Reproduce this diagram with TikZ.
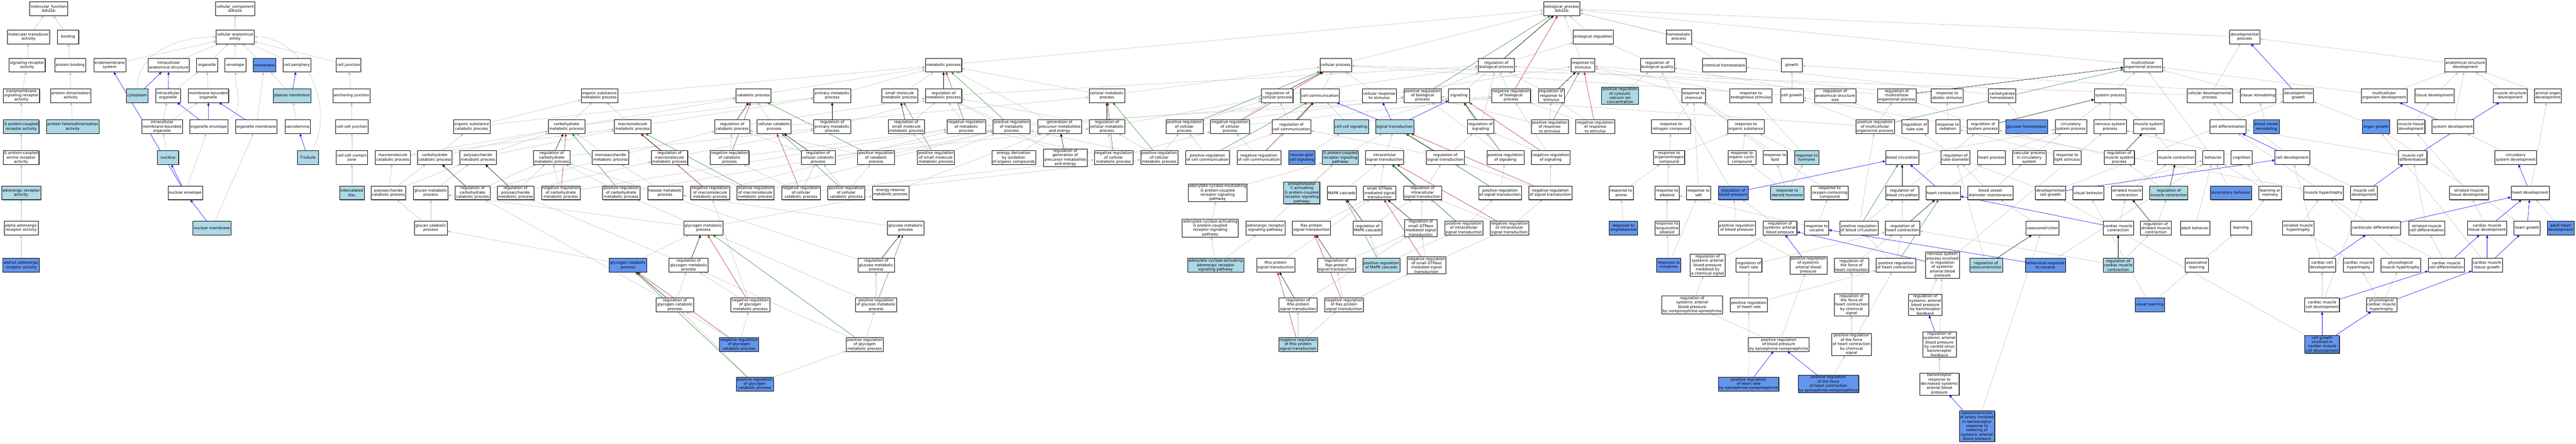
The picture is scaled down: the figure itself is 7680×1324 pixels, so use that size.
\documentclass[tikz,border=0pt]{standalone}
\usepackage{fontspec}
\usepackage{tikz}
\usetikzlibrary{arrows.meta}
\usetikzlibrary{shadows}
\usetikzlibrary{backgrounds}
\newfontfamily\gofont{DejaVu Sans}
\definecolor{lightblue}{HTML}{ADD8E6}
\definecolor{cornflower}{HTML}{6495ED}
\definecolor{edgegray}{HTML}{C0C0C0}
\definecolor{regred}{HTML}{B22222}
\definecolor{reggreen}{HTML}{228B22}
\tikzset{term/.style = {draw=black, fill=white, line width=0.8pt, align=center,
                        font=\gofont\fontsize{11.3}{12.9}\selectfont,
                        inner xsep=2.7pt, inner ysep=1.5pt,
                        minimum width=63pt, minimum height=41pt,
                        drop shadow={shadow xshift=1.3pt, shadow yshift=-1.3pt, fill=black!60, opacity=1}},
         lbterm/.style = {term, fill=lightblue},
         cbterm/.style = {term, fill=cornflower}}
\tikzset{isa/.style = {draw=edgegray, line width=0.9pt, -{Triangle[length=8pt,width=7pt]}},
         partof/.style = {isa, draw=blue},
         regl/.style = {isa, draw=black},
         posreg/.style = {isa, draw=reggreen},
         negreg/.style = {isa, draw=regred}}

\begin{document}
\begin{tikzpicture}[x=1pt, y=-1pt]
			\useasboundingbox (0,0) rectangle (7680,1324);
			% molecular function
			\node [term] (mf) at (145,26) {molecular\_function\\Adra1b};
			\node [term] (mtrans) at (85,110) {molecular transducer\\activity};
			\node [term] (binding) at (203,110) {binding};
			\node [term] (sigrec) at (81,194) {signaling receptor\\activity};
			\node [term] (protbind) at (209,194) {protein binding};
			\node [term] (tmsig) at (64,285) {transmembrane\\signaling receptor\\activity};
			\node [term] (protdim) at (211,285) {protein dimerization\\activity};
			\node [lbterm] (gpcr) at (63,378) {G protein-coupled\\receptor activity};
			\node [lbterm] (hetdim) at (217,378) {protein heterodimerization\\activity};
			\node [term] (gpcramine) at (63,470) {G protein-coupled\\amine receptor\\activity};
			\node [lbterm] (adrrec) at (63,575) {adrenergic receptor\\activity};
			\node [term] (alphaadr) at (63,680) {alpha-adrenergic\\receptor activity};
			\node [cbterm] (alphaone) at (63,791) {alpha1-adrenergic\\receptor activity};
			% cellular component
			\node [term] (cc) at (701,26) {cellular\_component\\Adra1b};
			\node [term] (cae) at (701,110) {cellular anatomical\\entity};
			\node [term] (endomem) at (327,194) {endomembrane\\system};
			\node [term] (ias) at (503,194) {intracellular\\anatomical structure};
			\node [term] (organelle) at (617,194) {organelle};
			\node [term] (envelope) at (702,194) {envelope};
			\node [cbterm] (membrane) at (788,194) {membrane};
			\node [term] (cellper) at (885,194) {cell periphery};
			\node [term] (celljunc) at (1039,194) {cell junction};
			\node [lbterm] (cytoplasm) at (409,285) {cytoplasm};
			\node [term] (intorg) at (501,285) {intracellular\\organelle};
			\node [term] (mborg) at (621,285) {membrane-bounded\\organelle};
			\node [lbterm] (pm) at (870,285) {plasma membrane};
			\node [term] (anchor) at (1048,285) {anchoring junction};
			\node [term] (imbo) at (483,378) {intracellular\\membrane-bounded\\organelle};
			\node [term] (orgenv) at (622,378) {organelle envelope};
			\node [term] (orgmem) at (764,378) {organelle membrane};
			\node [term] (sarco) at (887,378) {sarcolemma};
			\node [term] (ccjunc) at (1049,378) {cell-cell junction};
			\node [lbterm] (nucleus) at (501,470) {nucleus};
			\node [lbterm] (ttub) at (918,470) {T-tubule};
			\node [term] (cczone) at (1049,470) {cell-cell contact\\zone};
			\node [term] (nucenv) at (552,575) {nuclear envelope};
			\node [lbterm] (icd) at (1049,575) {intercalated\\disc};
			\node [lbterm] (nucmem) at (632,680) {nuclear membrane};
			% biological process, top rows
			\node [term] (bp) at (4656,26) {biological\_process\\Adra1b};
			\node [term] (bioreg) at (4750,110) {biological regulation};
			\node [term] (homeo) at (5005,110) {homeostatic\\process};
			\node [term] (devproc) at (6692,110) {developmental\\process};
			\node [term] (metproc) at (2813,194) {metabolic process};
			\node [term] (cellproc) at (3982,194) {cellular process};
			\node [term] (regbp) at (4461,194) {regulation of\\biological process};
			\node [term] (respstim) at (4719,194) {response to\\stimulus};
			\node [term] (regbq) at (4941,194) {regulation of\\biological quality};
			\node [term] (chemhom) at (5140,194) {chemical homeostasis};
			\node [term] (growth) at (5342,194) {growth};
			\node [term] (mcop) at (6389,194) {multicellular\\organismal process};
			\node [term] (asdev) at (7350,194) {anatomical structure\\development};
			% row D
			\node [term] (osmp) at (1787,285) {organic substance\\metabolic process};
			\node [term] (catproc) at (2246,285) {catabolic process};
			\node [term] (primmet) at (2481,285) {primary metabolic\\process};
			\node [term] (smmp) at (2682,285) {small molecule\\metabolic process};
			\node [term] (regmet) at (2813,285) {regulation of\\metabolic process};
			\node [term] (cellmet) at (3300,285) {cellular metabolic\\process};
			\node [term] (regcp) at (3808,285) {regulation of\\cellular process};
			\node [term] (cellcomm) at (3935,285) {cell communication};
			\node [term] (crs) at (4112,285) {cellular response\\to stimulus};
			\node [term] (posbp) at (4241,285) {positive regulation\\of biological\\process};
			\node [term] (signaling) at (4350,285) {signaling};
			\node [term] (negbp) at (4505,285) {negative regulation\\of biological\\process};
			\node [term] (regrs) at (4625,285) {regulation of\\response to\\stimulus};
			\node [lbterm] (poscyt) at (4830,285) {positive regulation\\of cytosolic\\calcium ion\\concentration};
			\node [term] (respchem) at (5049,285) {response to\\chemical};
			\node [term] (respendo) at (5220,285) {response to\\endogenous stimulus};
			\node [term] (cellgrowth) at (5342,285) {cell growth};
			\node [term] (regass) at (5471,285) {regulation of\\anatomical structure\\size};
			\node [term] (regmop) at (5655,285) {regulation of\\multicellular\\organismal process};
			\node [term] (respabio) at (5805,285) {response to\\abiotic stimulus};
			\node [term] (carbhom) at (5969,285) {carbohydrate\\homeostasis};
			\node [term] (sysproc) at (6291,285) {system process};
			\node [term] (celldp) at (6588,285) {cellular developmental\\process};
			\node [term] (tissrem) at (6732,285) {tissue remodeling};
			\node [term] (devgrowth) at (6852,285) {developmental\\growth};
			\node [term] (mcod) at (7108,285) {multicellular\\organism development};
			\node [term] (tissdev) at (7258,285) {tissue development};
			\node [term] (msd) at (7484,285) {muscle structure\\development};
			\node [term] (aod) at (7596,285) {animal organ\\development};
			% row E
			\node [term] (oscp) at (1406,378) {organic substance\\catabolic process};
			\node [term] (carbmet) at (1689,378) {carbohydrate\\metabolic process};
			\node [term] (macmet) at (1886,378) {macromolecule\\metabolic process};
			\node [term] (regcat) at (2183,378) {regulation of\\catabolic process};
			\node [term] (cellcat) at (2308,378) {cellular catabolic\\process};
			\node [term] (regprim) at (2481,378) {regulation of\\primary metabolic\\process};
			\node [term] (regsmm) at (2702,378) {regulation of\\small molecule\\metabolic process};
			\node [term] (negmet) at (2881,378) {negative regulation\\of metabolic\\process};
			\node [term] (posmet) at (3016,378) {positive regulation\\of metabolic\\process};
			\node [term] (genprec) at (3159,378) {generation of\\precursor metabolites\\and energy};
			\node [term] (regcellmet) at (3300,378) {regulation of\\cellular metabolic\\process};
			\node [term] (poscp) at (3531,378) {positive regulation\\of cellular\\process};
			\node [term] (negcp) at (3667,378) {negative regulation\\of cellular\\process};
			\node [term] (regcc) at (3850,378) {regulation of\\cell communication};
			\node [lbterm] (ccsig) at (4028,378) {cell-cell signaling};
			\node [lbterm] (sigtrans) at (4158,378) {signal transduction};
			\node [term] (regsig) at (4414,378) {regulation of\\signaling};
			\node [term] (posrs) at (4620,378) {positive regulation\\of response\\to stimulus};
			\node [term] (negrs) at (4756,378) {negative regulation\\of response\\to stimulus};
			\node [term] (respnit) at (4982,378) {response to\\nitrogen compound};
			\node [term] (resporg) at (5205,378) {response to\\organic substance};
			\node [term] (posmop) at (5590,378) {positive regulation\\of multicellular\\organismal process};
			\node [term] (regtube) at (5709,378) {regulation of\\tube size};
			\node [term] (resprad) at (5807,378) {response to\\radiation};
			\node [term] (regsys) at (5912,378) {regulation of\\system process};
			\node [cbterm] (glchom) at (6042,378) {glucose homeostasis};
			\node [term] (circsys) at (6174,378) {circulatory\\system process};
			\node [term] (nsp) at (6291,378) {nervous system\\process};
			\node [term] (musp) at (6406,378) {muscle system\\process};
			\node [term] (celldiff) at (6642,378) {cell differentiation};
			\node [cbterm] (bvrem) at (6757,378) {blood vessel\\remodeling};
			\node [cbterm] (organgrowth) at (7084,378) {organ growth};
			\node [term] (mtd) at (7188,378) {muscle tissue\\development};
			\node [term] (sysdev) at (7313,378) {system development};
			% row F
			\node [term] (mccp) at (1171,470) {macromolecule\\catabolic process};
			\node [term] (carbcat) at (1296,470) {carbohydrate\\catabolic process};
			\node [term] (polymet) at (1425,470) {polysaccharide\\metabolic process};
			\node [term] (regcarbmet) at (1645,470) {regulation of\\carbohydrate\\metabolic process};
			\node [term] (monomet) at (1820,470) {monosaccharide\\metabolic process};
			\node [term] (regmacmet) at (1996,470) {regulation of\\macromolecule\\metabolic process};
			\node [term] (negcat) at (2175,470) {negative regulation\\of catabolic\\process};
			\node [term] (regcellcat) at (2439,470) {regulation of\\cellular catabolic\\process};
			\node [term] (poscat) at (2612,470) {positive regulation\\of catabolic\\process};
			\node [term] (possmm) at (2790,470) {positive regulation\\of small molecule\\metabolic process};
			\node [term] (energy) at (3022,470) {energy derivation\\by oxidation\\of organic compounds};
			\node [term] (reggenprec) at (3176,470) {regulation of\\generation of\\precursor metabolites\\and energy};
			\node [term] (negcellmet) at (3320,470) {negative regulation\\of cellular\\metabolic process};
			\node [term] (poscellmet) at (3456,470) {positive regulation\\of cellular\\metabolic process};
			\node [term] (poscc) at (3600,470) {positive regulation\\of cell communication};
			\node [term] (negcc) at (3753,470) {negative regulation\\of cell communication};
			\node [cbterm] (ngcs) at (3881,470) {neuron-glial\\cell signaling};
			\node [lbterm] (gpcrsp) at (3996,470) {G protein-coupled\\receptor signaling\\pathway};
			\node [term] (intrasig) at (4128,470) {intracellular\\signal transduction};
			\node [term] (regst) at (4309,470) {regulation of\\signal transduction};
			\node [term] (possig) at (4488,470) {positive regulation\\of signaling};
			\node [term] (negsig) at (4623,470) {negative regulation\\of signaling};
			\node [term] (respon) at (4976,470) {response to\\organonitrogen\\compound};
			\node [term] (respocc) at (5193,470) {response to\\organic cyclic\\compound};
			\node [term] (resplipid) at (5292,470) {response to\\lipid};
			\node [lbterm] (resphorm) at (5386,470) {response to\\hormone};
			\node [term] (bloodcirc) at (5671,470) {blood circulation};
			\node [term] (regtubed) at (5830,470) {regulation of\\tube diameter};
			\node [term] (heartproc) at (5937,470) {heart process};
			\node [term] (vascproc) at (6050,470) {vascular process\\in circulatory\\system};
			\node [term] (resplight) at (6163,470) {response to\\light stimulus};
			\node [term] (regmsp) at (6318,470) {regulation of\\muscle system\\process};
			\node [term] (muscontr) at (6488,470) {muscle contraction};
			\node [term] (behavior) at (6598,470) {behavior};
			\node [term] (cognition) at (6683,470) {cognition};
			\node [term] (celldev) at (6834,470) {cell development};
			\node [term] (mcdiff) at (7193,470) {muscle cell\\differentiation};
			\node [term] (csd) at (7500,470) {circulatory\\system development};
			% row G
			\node [term] (pscp) at (1158,575) {polysaccharide\\catabolic process};
			\node [term] (glucanmet) at (1284,575) {glucan metabolic\\process};
			\node [term] (regcarbcat) at (1409,575) {regulation of\\carbohydrate\\catabolic process};
			\node [term] (regpoly) at (1537,575) {regulation of\\polysaccharide\\metabolic process};
			\node [term] (negcarbmet) at (1672,575) {negative regulation\\of carbohydrate\\metabolic process};
			\node [term] (poscarbmet) at (1852,575) {positive regulation\\of carbohydrate\\metabolic process};
			\node [term] (hexose) at (1983,575) {hexose metabolic\\process};
			\node [term] (negmacmet) at (2117,575) {negative regulation\\of macromolecule\\metabolic process};
			\node [term] (posmacmet) at (2252,575) {positive regulation\\of macromolecule\\metabolic process};
			\node [term] (negcellcat) at (2388,575) {negative regulation\\of cellular\\catabolic process};
			\node [term] (poscellcat) at (2523,575) {positive regulation\\of cellular\\catabolic process};
			\node [term] (energyres) at (2655,575) {energy reserve\\metabolic process};
			\node [term] (acmod) at (3630,575) {adenylate cyclase-modulating\\G protein-coupled\\receptor signaling\\pathway};
			\node [lbterm] (plc) at (3881,575) {phospholipase\\C-activating\\G protein-coupled\\receptor signaling\\pathway};
			\node [term] (mapk) at (4000,575) {MAPK cascade};
			\node [term] (sgtp) at (4113,575) {small GTPase\\mediated signal\\transduction};
			\node [term] (regintra) at (4241,575) {regulation of\\intracellular\\signal transduction};
			\node [term] (posst) at (4472,575) {positive regulation\\of signal transduction};
			\node [term] (negst) at (4622,575) {negative regulation\\of signal transduction};
			\node [term] (respamine) at (4833,575) {response to\\amine};
			\node [term] (respalk) at (4970,575) {response to\\alkaloid};
			\node [term] (respsalt) at (5064,575) {response to\\salt};
			\node [cbterm] (regbpress) at (5167,575) {regulation of\\blood pressure};
			\node [lbterm] (respster) at (5328,575) {response to\\steroid hormone};
			\node [term] (respoxy) at (5455,575) {response to\\oxygen-containing\\compound};
			\node [term] (regbc) at (5671,575) {regulation of\\blood circulation};
			\node [term] (heartcontr) at (5793,575) {heart contraction};
			\node [term] (bvdm) at (5934,575) {blood vessel\\diameter maintenance};
			\node [term] (devcg) at (6113,575) {developmental\\cell growth};
			\node [term] (visbeh) at (6226,575) {visual behavior};
			\node [term] (smc) at (6341,575) {striated muscle\\contraction};
			\node [lbterm] (regmc) at (6466,575) {regulation of\\muscle contraction};
			\node [cbterm] (locbeh) at (6651,575) {locomotory behavior};
			\node [term] (learnmem) at (6768,575) {learning or\\memory};
			\node [term] (mushyp) at (6927,575) {muscle hypertrophy};
			\node [term] (mcdev) at (7048,575) {muscle cell\\development};
			\node [term] (smtd) at (7361,575) {striated muscle\\tissue development};
			\node [term] (heartdev) at (7543,575) {heart development};
			% row H
			\node [term] (glucancat) at (1284,680) {glucan catabolic\\process};
			\node [term] (glycmet) at (2097,680) {glycogen metabolic\\process};
			\node [term] (glucmet) at (2700,680) {glucose metabolic\\process};
			\node [term] (acact) at (3608,680) {adenylate cyclase-activating\\G protein-coupled\\receptor signaling\\pathway};
			\node [term] (adrsp) at (3773,680) {adrenergic receptor\\signaling pathway};
			\node [term] (ras) at (3910,680) {Ras protein\\signal transduction};
			\node [term] (regmapk) at (4077,680) {regulation of\\MAPK cascade};
			\node [term] (regsgtp) at (4236,680) {regulation of\\small GTPase\\mediated signal\\transduction};
			\node [term] (posintra) at (4364,680) {positive regulation\\of intracellular\\signal transduction};
			\node [term] (negintra) at (4500,680) {negative regulation\\of intracellular\\signal transduction};
			\node [cbterm] (respamph) at (4840,680) {response to\\amphetamine};
			\node [term] (respiso) at (4970,680) {response to\\isoquinoline\\alkaloid};
			\node [term] (posbpthree) at (5178,680) {positive regulation\\of blood pressure};
			\node [term] (regsabp) at (5307,680) {regulation of\\systemic arterial\\blood pressure};
			\node [term] (respcoc) at (5416,680) {response to\\cocaine};
			\node [term] (posbc) at (5542,680) {positive regulation\\of blood circulation};
			\node [term] (reghc) at (5672,680) {regulation of\\heart contraction};
			\node [term] (vasocon) at (6089,680) {vasoconstriction};
			\node [term] (cmc) at (6315,680) {cardiac muscle\\contraction};
			\node [term] (regsmc) at (6427,680) {regulation of\\striated muscle\\contraction};
			\node [term] (adultbeh) at (6544,680) {adult behavior};
			\node [term] (learning) at (6681,680) {learning};
			\node [term] (smh) at (6852,680) {striated muscle\\hypertrophy};
			\node [term] (cardiocyte) at (7083,680) {cardiocyte differentiation};
			\node [term] (smcd) at (7235,680) {striated muscle\\cell differentiation};
			\node [term] (cmtd) at (7415,680) {cardiac muscle\\tissue development};
			\node [term] (heartgrowth) at (7534,680) {heart growth};
			\node [cbterm] (adultheart) at (7634,680) {adult heart\\development};
			% row I
			\node [cbterm] (glyccat) at (1872,791) {glycogen catabolic\\process};
			\node [term] (regglyc) at (2053,791) {regulation of\\glycogen metabolic\\process};
			\node [term] (regglucmet) at (2612,791) {regulation of\\glucose metabolic\\process};
			\node [lbterm] (acadr) at (3624,791) {adenylate cyclase-activating\\adrenergic receptor\\signaling pathway};
			\node [term] (rho) at (3803,791) {Rho protein\\signal transduction};
			\node [term] (regras) at (3984,791) {regulation of\\Ras protein\\signal transduction};
			\node [lbterm] (posmapk) at (4118,791) {positive regulation\\of MAPK cascade};
			\node [term] (negsgtp) at (4253,791) {negative regulation\\of small GTPase\\mediated signal\\transduction};
			\node [cbterm] (respmorph) at (4975,791) {response to\\morphine};
			\node [term] (regsabpchem) at (5091,791) {regulation of\\systemic arterial\\blood pressure\\mediated by\\a chemical signal};
			\node [term] (reghr) at (5214,791) {regulation of\\heart rate};
			\node [term] (possabp) at (5391,791) {positive regulation\\of systemic\\arterial blood\\pressure};
			\node [term] (regforce) at (5520,791) {regulation of\\the force of\\heart contraction};
			\node [term] (poshc) at (5652,791) {positive regulation\\of heart contraction};
			\node [term] (nspsabp) at (5791,791) {nervous system\\process involved\\in regulation\\of systemic\\arterial blood\\pressure};
			\node [lbterm] (regvaso) at (5921,791) {regulation of\\vasoconstriction};
			\node [cbterm] (behcoc) at (6098,791) {behavioral response\\to cocaine};
			\node [lbterm] (regcmc) at (6315,791) {regulation of\\cardiac muscle\\contraction};
			\node [term] (asslearn) at (6549,791) {associative\\learning};
			\node [term] (cardcelldev) at (6923,791) {cardiac cell\\development};
			\node [term] (cmh) at (7032,791) {cardiac muscle\\hypertrophy};
			\node [term] (pmh) at (7157,791) {physiological\\muscle hypertrophy};
			\node [term] (cmcd) at (7293,791) {cardiac muscle\\cell differentiation};
			\node [term] (cmtg) at (7415,791) {cardiac muscle\\tissue growth};
			% row J
			\node [term] (regglyccat) at (2012,909) {regulation of\\glycogen catabolic\\process};
			\node [term] (negglycmet) at (2237,909) {negative regulation\\of glycogen\\metabolic process};
			\node [term] (posglucmet) at (2612,909) {positive regulation\\of glucose metabolic\\process};
			\node [term] (regrho) at (3870,909) {regulation of\\Rho protein\\signal transduction};
			\node [term] (negras) at (4007,909) {negative regulation\\of Ras protein\\signal transduction};
			\node [term] (regsabpne) at (5045,909) {regulation of\\systemic arterial\\blood pressure\\by norepinephrine-epinephrine};
			\node [term] (poshr) at (5214,909) {positive regulation\\of heart rate};
			\node [term] (regforcechem) at (5520,909) {regulation of\\the force of\\heart contraction\\by chemical\\signal};
			\node [term] (regsabpbaro) at (5740,909) {regulation of\\systemic arterial\\blood pressure\\by baroreceptor\\feedback};
			\node [cbterm] (vislearn) at (6409,909) {visual learning};
			\node [term] (cmcdev) at (6923,909) {cardiac muscle\\cell development};
			\node [term] (pcmh) at (7100,909) {physiological\\cardiac muscle\\hypertrophy};
			% row K
			\node [cbterm] (negglyccat) at (2203,1027) {negative regulation\\of glycogen\\catabolic process};
			\node [term] (posglycmet) at (2578,1027) {positive regulation\\of glycogen\\metabolic process};
			\node [lbterm] (negrho) at (3870,1027) {negative regulation\\of Rho protein\\signal transduction};
			\node [term] (posbpen) at (5303,1027) {positive regulation\\of blood pressure\\by epinephrine-norepinephrine};
			\node [term] (posforcechem) at (5520,1027) {positive regulation\\of the force\\of heart contraction\\by chemical\\signal};
			\node [term] (regsabpcarotid) at (5782,1027) {regulation of\\systemic arterial\\blood pressure\\by carotid sinus\\baroreceptor\\feedback};
			\node [cbterm] (cgcmcd) at (6923,1027) {cell growth\\involved in\\cardiac muscle\\cell development};
			% row L
			\node [cbterm] (posglyccat) at (2250,1145) {positive regulation\\of glycogen\\catabolic process};
			\node [cbterm] (poshren) at (5213,1145) {positive regulation\\of heart rate\\by epinephrine-norepinephrine};
			\node [cbterm] (posforceen) at (5451,1145) {positive regulation\\of the force\\of heart contraction\\by epinephrine-norepinephrine};
			\node [term] (barodec) at (5782,1145) {baroreceptor\\response to\\decreased systemic\\arterial blood\\pressure};
			% row M
			\node [cbterm] (vasoart) at (5894,1271) {vasoconstriction\\of artery involved\\in baroreceptor\\response to\\lowering of\\systemic arterial\\blood pressure};
			\begin{pgfonlayer}{background}
			% is a
			\draw [isa] (mtrans) to (mf);
			\draw [isa] (binding) to (mf);
			\draw [isa] (sigrec) to (mtrans);
			\draw [isa] (protbind) to (binding);
			\draw [isa] (tmsig) to (sigrec);
			\draw [isa] (protdim) to (protbind);
			\draw [isa] (gpcr) to (tmsig);
			\draw [isa] (hetdim) to (protdim);
			\draw [isa] (gpcramine) to (gpcr);
			\draw [isa] (adrrec) to (gpcramine);
			\draw [isa] (alphaadr) to (adrrec);
			\draw [isa] (alphaone) to (alphaadr);
			\draw [isa] (cae) to (cc);
			\draw [isa] (endomem) to (cae);
			\draw [isa] (ias) to (cae);
			\draw [isa] (organelle) to (cae);
			\draw [isa] (envelope) to (cae);
			\draw [isa] (membrane) to (cae);
			\draw [isa] (cellper) to (cae);
			\draw [isa] (celljunc) to (cae);
			\draw [isa, out=90, in=180] (cytoplasm) to (cae);
			\draw [isa] (intorg) to (organelle);
			\draw [isa] (mborg) to (organelle);
			\draw [isa] (imbo) to (intorg);
			\draw [isa] (imbo) to (mborg);
			\draw [isa] (orgmem) to (membrane);
			\draw [isa] (pm) to (membrane);
			\draw [isa] (sarco) to (pm);
			\draw [isa, out=60, in=0] (ttub) to (cae);
			\draw [isa] (anchor) to (celljunc);
			\draw [isa] (ccjunc) to (anchor);
			\draw [isa] (cczone) to (ccjunc);
			\draw [isa] (icd) to (cczone);
			\draw [isa] (nucleus) to (imbo);
			\draw [isa] (nucenv) to (orgenv);
			\draw [isa] (nucmem) to (orgmem);
			\draw [isa, out=20, in=-90] (orgenv) to (envelope);
			\draw [isa] (bioreg) to (bp);
			\draw [isa] (homeo) to (bp);
			\draw [isa] (devproc) to (bp);
			\draw [isa] (metproc) to (bp);
			\draw [isa] (cellproc) to (bp);
			\draw [isa] (regbp) to (bioreg);
			\draw [isa] (respstim) to (bp);
			\draw [isa] (regbq) to (bioreg);
			\draw [isa] (chemhom) to (homeo);
			\draw [isa] (growth) to (bp);
			\draw [isa] (mcop) to (bp);
			\draw [isa] (asdev) to (devproc);
			\draw [isa] (osmp) to (metproc);
			\draw [isa] (catproc) to (metproc);
			\draw [isa] (primmet) to (metproc);
			\draw [isa] (smmp) to (metproc);
			\draw [isa] (regmet) to (regbp);
			\draw [isa] (cellmet) to (metproc);
			\draw [isa] (cellmet) to (cellproc);
			\draw [isa] (regcp) to (regbp);
			\draw [isa] (cellcomm) to (cellproc);
			\draw [isa] (crs) to (cellproc);
			\draw [isa] (crs) to (respstim);
			\draw [isa] (posbp) to (regbp);
			\draw [isa] (signaling) to (bp);
			\draw [isa] (negbp) to (regbp);
			\draw [isa] (regrs) to (regbp);
			\draw [isa] (poscyt) to (regbq);
			\draw [isa] (respchem) to (respstim);
			\draw [isa] (respendo) to (respstim);
			\draw [isa] (cellgrowth) to (growth);
			\draw [isa] (cellgrowth) to (cellproc);
			\draw [isa] (regass) to (regbq);
			\draw [isa] (regmop) to (regbp);
			\draw [isa] (respabio) to (respstim);
			\draw [isa] (carbhom) to (chemhom);
			\draw [isa] (sysproc) to (mcop);
			\draw [isa] (celldp) to (devproc);
			\draw [isa] (celldp) to (cellproc);
			\draw [isa] (tissrem) to (mcop);
			\draw [isa] (devgrowth) to (growth);
			\draw [isa] (mcod) to (asdev);
			\draw [isa] (mcod) to (mcop);
			\draw [isa] (tissdev) to (asdev);
			\draw [isa] (msd) to (asdev);
			\draw [isa] (aod) to (asdev);
			\draw [isa] (oscp) to (osmp);
			\draw [isa] (oscp) to (catproc);
			\draw [isa] (carbmet) to (osmp);
			\draw [isa] (carbmet) to (primmet);
			\draw [isa] (macmet) to (osmp);
			\draw [isa] (macmet) to (primmet);
			\draw [isa] (regcat) to (regmet);
			\draw [isa] (cellcat) to (catproc);
			\draw [isa] (cellcat) to (cellmet);
			\draw [isa] (regprim) to (regmet);
			\draw [isa] (regsmm) to (regmet);
			\draw [isa] (negmet) to (regmet);
			\draw [isa] (negmet) to (negbp);
			\draw [isa] (posmet) to (regmet);
			\draw [isa] (posmet) to (posbp);
			\draw [isa] (genprec) to (metproc);
			\draw [isa] (regcellmet) to (regmet);
			\draw [isa] (regcellmet) to (regcp);
			\draw [isa] (poscp) to (regcp);
			\draw [isa] (poscp) to (posbp);
			\draw [isa] (negcp) to (regcp);
			\draw [isa] (negcp) to (negbp);
			\draw [isa] (regcc) to (regcp);
			\draw [isa] (ccsig) to (cellcomm);
			\draw [isa] (ccsig) to (signaling);
			\draw [isa] (regsig) to (regbp);
			\draw [isa] (posrs) to (regrs);
			\draw [isa] (posrs) to (posbp);
			\draw [isa] (negrs) to (regrs);
			\draw [isa] (negrs) to (negbp);
			\draw [isa] (respnit) to (respchem);
			\draw [isa] (resporg) to (respchem);
			\draw [isa] (posmop) to (regmop);
			\draw [isa] (posmop) to (posbp);
			\draw [isa] (regtube) to (regass);
			\draw [isa] (resprad) to (respabio);
			\draw [isa] (regsys) to (regmop);
			\draw [isa] (glchom) to (carbhom);
			\draw [isa] (circsys) to (sysproc);
			\draw [isa] (nsp) to (sysproc);
			\draw [isa] (musp) to (sysproc);
			\draw [isa] (celldiff) to (celldp);
			\draw [isa] (bvrem) to (tissrem);
			\draw [isa] (organgrowth) to (devgrowth);
			\draw [isa] (mtd) to (tissdev);
			\draw [isa] (sysdev) to (asdev);
			\draw [isa] (mccp) to (macmet);
			\draw [isa] (mccp) to (catproc);
			\draw [isa] (carbcat) to (carbmet);
			\draw [isa] (carbcat) to (oscp);
			\draw [isa] (polymet) to (carbmet);
			\draw [isa] (polymet) to (macmet);
			\draw [isa] (regcarbmet) to (regprim);
			\draw [isa] (monomet) to (carbmet);
			\draw [isa] (regmacmet) to (regprim);
			\draw [isa] (negcat) to (regcat);
			\draw [isa] (negcat) to (negmet);
			\draw [isa] (regcellcat) to (regcat);
			\draw [isa] (regcellcat) to (regcellmet);
			\draw [isa] (poscat) to (regcat);
			\draw [isa] (poscat) to (posmet);
			\draw [isa] (possmm) to (regsmm);
			\draw [isa] (possmm) to (posmet);
			\draw [isa] (energy) to (genprec);
			\draw [isa] (reggenprec) to (regmet);
			\draw [isa] (negcellmet) to (regcellmet);
			\draw [isa] (negcellmet) to (negmet);
			\draw [isa] (negcellmet) to (negcp);
			\draw [isa] (poscellmet) to (regcellmet);
			\draw [isa] (poscellmet) to (posmet);
			\draw [isa] (poscellmet) to (poscp);
			\draw [isa] (poscc) to (regcc);
			\draw [isa] (poscc) to (poscp);
			\draw [isa] (negcc) to (regcc);
			\draw [isa] (negcc) to (negcp);
			\draw [isa] (ngcs) to (ccsig);
			\draw [isa] (gpcrsp) to (sigtrans);
			\draw [isa] (intrasig) to (sigtrans);
			\draw [isa] (regst) to (regsig);
			\draw [isa] (regst) to (regcc);
			\draw [isa] (possig) to (regsig);
			\draw [isa] (possig) to (posbp);
			\draw [isa] (negsig) to (regsig);
			\draw [isa] (negsig) to (negbp);
			\draw [isa] (respon) to (respnit);
			\draw [isa] (respon) to (resporg);
			\draw [isa] (respocc) to (resporg);
			\draw [isa] (resplipid) to (respchem);
			\draw [isa] (resphorm) to (respendo);
			\draw [isa] (resphorm) to (resporg);
			\draw [isa] (bloodcirc) to (circsys);
			\draw [isa] (regtubed) to (regtube);
			\draw [isa] (heartproc) to (circsys);
			\draw [isa] (vascproc) to (circsys);
			\draw [isa] (resplight) to (resprad);
			\draw [isa] (regmsp) to (regsys);
			\draw [isa] (muscontr) to (musp);
			\draw [isa] (behavior) to (mcop);
			\draw [isa] (cognition) to (nsp);
			\draw [isa] (celldev) to (celldp);
			\draw [isa] (mcdiff) to (celldiff);
			\draw [isa] (csd) to (sysdev);
			\draw [isa] (pscp) to (polymet);
			\draw [isa] (pscp) to (mccp);
			\draw [isa] (pscp) to (carbcat);
			\draw [isa] (glucanmet) to (polymet);
			\draw [isa] (regcarbcat) to (regcarbmet);
			\draw [isa] (regcarbcat) to (regcat);
			\draw [isa] (regpoly) to (regcarbmet);
			\draw [isa] (regpoly) to (regmacmet);
			\draw [isa] (negcarbmet) to (regcarbmet);
			\draw [isa] (negcarbmet) to (negmet);
			\draw [isa] (poscarbmet) to (regcarbmet);
			\draw [isa] (poscarbmet) to (posmet);
			\draw [isa] (hexose) to (monomet);
			\draw [isa] (negmacmet) to (regmacmet);
			\draw [isa] (negmacmet) to (negmet);
			\draw [isa] (posmacmet) to (regmacmet);
			\draw [isa] (posmacmet) to (posmet);
			\draw [isa] (negcellcat) to (regcellcat);
			\draw [isa] (negcellcat) to (negcat);
			\draw [isa] (negcellcat) to (negcellmet);
			\draw [isa] (poscellcat) to (regcellcat);
			\draw [isa] (poscellcat) to (poscat);
			\draw [isa] (poscellcat) to (poscellmet);
			\draw [isa] (energyres) to (genprec);
			\draw [isa] (acmod) to (gpcrsp);
			\draw [isa] (plc) to (gpcrsp);
			\draw [isa] (mapk) to (intrasig);
			\draw [isa] (sgtp) to (intrasig);
			\draw [isa] (regintra) to (regst);
			\draw [isa] (posst) to (regst);
			\draw [isa] (posst) to (possig);
			\draw [isa] (negst) to (regst);
			\draw [isa] (negst) to (negsig);
			\draw [isa] (respamine) to (respon);
			\draw [isa] (respalk) to (respon);
			\draw [isa] (respsalt) to (respchem);
			\draw [isa] (regbpress) to (regbq);
			\draw [isa] (respster) to (resphorm);
			\draw [isa] (respster) to (resplipid);
			\draw [isa] (respster) to (respocc);
			\draw [isa] (respoxy) to (respchem);
			\draw [isa] (regbc) to (regsys);
			\draw [isa] (heartcontr) to (heartproc);
			\draw [isa] (bvdm) to (vascproc);
			\draw [isa] (bvdm) to (regtubed);
			\draw [isa] (devcg) to (cellgrowth);
			\draw [isa] (devcg) to (devgrowth);
			\draw [isa] (visbeh) to (behavior);
			\draw [isa] (smc) to (muscontr);
			\draw [isa] (regmc) to (regmsp);
			\draw [isa] (locbeh) to (behavior);
			\draw [isa] (learnmem) to (behavior);
			\draw [isa] (learnmem) to (cognition);
			\draw [isa] (mushyp) to (cellgrowth);
			\draw [isa] (mcdev) to (celldev);
			\draw [isa] (smtd) to (mtd);
			\draw [isa] (heartdev) to (aod);
			\draw [isa] (glucancat) to (glucanmet);
			\draw [isa] (glucancat) to (pscp);
			\draw [isa] (glycmet) to (glucanmet);
			\draw [isa] (glycmet) to (energyres);
			\draw [isa] (glucmet) to (hexose);
			\draw [isa] (acact) to (acmod);
			\draw [isa] (adrsp) to (gpcrsp);
			\draw [isa] (ras) to (sgtp);
			\draw [isa] (regmapk) to (regintra);
			\draw [isa] (regsgtp) to (regintra);
			\draw [isa] (posintra) to (regintra);
			\draw [isa] (posintra) to (posst);
			\draw [isa] (negintra) to (regintra);
			\draw [isa] (negintra) to (negst);
			\draw [isa] (respamph) to (respamine);
			\draw [isa] (respiso) to (respalk);
			\draw [isa] (posbpthree) to (regbpress);
			\draw [isa] (regsabp) to (regbpress);
			\draw [isa] (respcoc) to (respoxy);
			\draw [isa] (respcoc) to (respalk);
			\draw [isa] (posbc) to (regbc);
			\draw [isa] (posbc) to (posmop);
			\draw [isa] (reghc) to (regbc);
			\draw [isa] (vasocon) to (bvdm);
			\draw [isa] (cmc) to (smc);
			\draw [isa] (regsmc) to (regmc);
			\draw [isa] (adultbeh) to (behavior);
			\draw [isa] (learning) to (learnmem);
			\draw [isa] (smh) to (mushyp);
			\draw [isa] (cardiocyte) to (celldiff);
			\draw [isa] (smcd) to (mcdiff);
			\draw [isa] (cmtd) to (smtd);
			\draw [isa] (heartgrowth) to (organgrowth);
			\draw [isa] (adultheart) to (heartdev);
			\draw [isa] (glyccat) to (glycmet);
			\draw [isa] (glyccat) to (glucancat);
			\draw [isa] (regglyc) to (regpoly);
			\draw [isa] (regglucmet) to (regcarbmet);
			\draw [isa] (acadr) to (acact);
			\draw [isa] (acadr) to (adrsp);
			\draw [isa] (rho) to (sgtp);
			\draw [isa] (regras) to (regsgtp);
			\draw [isa] (posmapk) to (regmapk);
			\draw [isa] (posmapk) to (posintra);
			\draw [isa] (negsgtp) to (regsgtp);
			\draw [isa] (negsgtp) to (negintra);
			\draw [isa] (respmorph) to (respiso);
			\draw [isa] (respmorph) to (respsalt);
			\draw [isa] (regsabpchem) to (regsabp);
			\draw [isa] (reghr) to (reghc);
			\draw [isa] (possabp) to (posbpthree);
			\draw [isa] (regforce) to (reghc);
			\draw [isa] (poshc) to (reghc);
			\draw [isa] (poshc) to (posbc);
			\draw [isa] (nspsabp) to (nsp);
			\draw [isa] (regvaso) to (regtubed);
			\draw [isa] (behcoc) to (behavior);
			\draw [isa] (regcmc) to (regsmc);
			\draw [isa] (regcmc) to (reghc);
			\draw [isa] (asslearn) to (learning);
			\draw [isa] (cardcelldev) to (celldev);
			\draw [isa] (cmh) to (smh);
			\draw [isa] (pmh) to (mushyp);
			\draw [isa] (cmcd) to (cardiocyte);
			\draw [isa] (cmcd) to (smcd);
			\draw [isa] (cmtg) to (organgrowth);
			\draw [isa] (regglyccat) to (regglyc);
			\draw [isa] (regglyccat) to (regcarbcat);
			\draw [isa] (negglycmet) to (regglyc);
			\draw [isa] (negglycmet) to (negmacmet);
			\draw [isa] (posglucmet) to (regglucmet);
			\draw [isa] (posglucmet) to (poscarbmet);
			\draw [isa] (regrho) to (regsgtp);
			\draw [isa] (negras) to (regras);
			\draw [isa] (negras) to (negsgtp);
			\draw [isa] (regsabpne) to (regsabpchem);
			\draw [isa] (poshr) to (reghr);
			\draw [isa] (poshr) to (poshc);
			\draw [isa] (regforcechem) to (regforce);
			\draw [isa] (regsabpbaro) to (nspsabp);
			\draw [isa] (vislearn) to (visbeh);
			\draw [isa] (vislearn) to (asslearn);
			\draw [isa] (cmcdev) to (cardcelldev);
			\draw [isa] (cmcdev) to (mcdev);
			\draw [isa] (pcmh) to (cmh);
			\draw [isa] (pcmh) to (pmh);
			\draw [isa] (negglyccat) to (regglyccat);
			\draw [isa] (negglyccat) to (negglycmet);
			\draw [isa] (posglycmet) to (regglyc);
			\draw [isa] (posglycmet) to (posglucmet);
			\draw [isa] (negrho) to (regrho);
			\draw [isa] (negrho) to (negras);
			\draw [isa] (posbpen) to (regsabpne);
			\draw [isa] (posbpen) to (possabp);
			\draw [isa] (posforcechem) to (regforcechem);
			\draw [isa] (posforcechem) to (poshc);
			\draw [isa] (regsabpcarotid) to (nspsabp);
			\draw [isa] (cgcmcd) to (devcg);
			\draw [isa] (posglyccat) to (regglyccat);
			\draw [isa] (posglyccat) to (posglycmet);
			\draw [isa] (poshren) to (poshr);
			\draw [isa] (posforceen) to (posforcechem);
			\draw [isa] (barodec) to (regsabpcarotid);
			\draw [isa] (vasoart) to (vasocon);
			% part of
			\draw [partof] (cytoplasm) to (ias);
			\draw [partof] (intorg) to (ias);
			\draw [partof] (orgenv) to (intorg);
			\draw [partof] (orgenv) to (mborg);
			\draw [partof] (orgmem) to (mborg);
			\draw [partof] (nucenv) to (nucleus);
			\draw [partof] (nucenv) to (endomem);
			\draw [partof] (nucmem) to (nucenv);
			\draw [partof] (pm) to (cellper);
			\draw [partof] (ttub) to (sarco);
			\draw [partof] (sigtrans) to (cellcomm);
			\draw [partof] (sigtrans) to (crs);
			\draw [partof] (sigtrans) to (signaling);
			\draw [partof] (devgrowth) to (devproc);
			\draw [partof] (regbpress) to (bloodcirc);
			\draw [partof] (heartcontr) to (bloodcirc);
			\draw [partof] (devcg) to (celldev);
			\draw [partof] (celldev) to (celldiff);
			\draw [partof] (mcdev) to (mcdiff);
			\draw [partof] (mcdiff) to (msd);
			\draw [partof] (sysdev) to (mcod);
			\draw [partof] (heartdev) to (csd);
			\draw [partof] (cmc) to (heartcontr);
			\draw [partof] (cardiocyte) to (heartdev);
			\draw [partof] (cmtd) to (heartdev);
			\draw [partof] (heartgrowth) to (heartdev);
			\draw [partof] (possabp) to (regsabp);
			\draw [partof] (nspsabp) to (regsabp);
			\draw [partof] (behcoc) to (respcoc);
			\draw [partof] (cardcelldev) to (cardiocyte);
			\draw [partof] (cmcd) to (cmtd);
			\draw [partof] (cmtg) to (cmtd);
			\draw [partof] (cmtg) to (heartgrowth);
			\draw [partof] (cmcdev) to (cmcd);
			\draw [partof] (pcmh) to (cmtg);
			\draw [partof] (regsabpcarotid) to (regsabpbaro);
			\draw [partof] (cgcmcd) to (cmcdev);
			\draw [partof] (cgcmcd) to (pcmh);
			\draw [partof] (poshren) to (posbpen);
			\draw [partof] (posforceen) to (posbpen);
			\draw [partof] (vasoart) to (barodec);
			% regulates
			\draw [regl] (regbp) to (bp);
			\draw [regl] (regmet) to (metproc);
			\draw [regl] (regcp) to (cellproc);
			\draw [regl] (regrs) to (respstim);
			\draw [regl] (regmop) to (mcop);
			\draw [regl] (regcat) to (catproc);
			\draw [regl] (regprim) to (primmet);
			\draw [regl] (regsmm) to (smmp);
			\draw [regl] (regcellmet) to (cellmet);
			\draw [regl] (regcc) to (cellcomm);
			\draw [regl] (regsig) to (signaling);
			\draw [regl] (regsys) to (sysproc);
			\draw [regl] (regcarbmet) to (carbmet);
			\draw [regl] (regmacmet) to (macmet);
			\draw [regl] (regcellcat) to (cellcat);
			\draw [regl] (reggenprec) to (genprec);
			\draw [regl] (regst) to (sigtrans);
			\draw [regl] (regmsp) to (musp);
			\draw [regl] (regcarbcat) to (carbcat);
			\draw [regl] (regpoly) to (polymet);
			\draw [regl] (regintra) to (intrasig);
			\draw [regl] (regbc) to (bloodcirc);
			\draw [regl] (regmc) to (muscontr);
			\draw [regl] (regmapk) to (mapk);
			\draw [regl] (regsgtp) to (sgtp);
			\draw [regl] (reghc) to (heartcontr);
			\draw [regl] (regsmc) to (smc);
			\draw [regl] (regglyc) to (glycmet);
			\draw [regl] (regglucmet) to (glucmet);
			\draw [regl] (regras) to (ras);
			\draw [regl] (regvaso) to (vasocon);
			\draw [regl] (regcmc) to (cmc);
			\draw [regl] (regglyccat) to (glyccat);
			\draw [regl] (regrho) to (rho);
			% positively regulates
			\draw [posreg] (posbp) to (bp);
			\draw [posreg] (posmet) to (metproc);
			\draw [posreg] (poscp) to (cellproc);
			\draw [posreg] (posrs) to (respstim);
			\draw [posreg] (posmop) to (mcop);
			\draw [posreg] (poscat) to (catproc);
			\draw [posreg] (possmm) to (smmp);
			\draw [posreg] (poscellmet) to (cellmet);
			\draw [posreg] (poscc) to (cellcomm);
			\draw [posreg] (possig) to (signaling);
			\draw [posreg] (poscarbmet) to (carbmet);
			\draw [posreg] (posmacmet) to (macmet);
			\draw [posreg] (poscellcat) to (cellcat);
			\draw [posreg] (posst) to (sigtrans);
			\draw [posreg] (posintra) to (intrasig);
			\draw [posreg] (posbc) to (bloodcirc);
			\draw [posreg] (posmapk) to (mapk);
			\draw [posreg] (poshc) to (heartcontr);
			\draw [posreg] (posglucmet) to (glucmet);
			\draw [posreg] (posglycmet) to (glycmet);
			\draw [posreg] (posglyccat) to (glyccat);
			% negatively regulates
			\draw [negreg] (negbp) to (bp);
			\draw [negreg] (negmet) to (metproc);
			\draw [negreg] (negcp) to (cellproc);
			\draw [negreg] (negrs) to (respstim);
			\draw [negreg] (negcat) to (catproc);
			\draw [negreg] (negcellmet) to (cellmet);
			\draw [negreg] (negcc) to (cellcomm);
			\draw [negreg] (negsig) to (signaling);
			\draw [negreg] (negcarbmet) to (carbmet);
			\draw [negreg] (negmacmet) to (macmet);
			\draw [negreg] (negcellcat) to (cellcat);
			\draw [negreg] (negst) to (sigtrans);
			\draw [negreg] (negintra) to (intrasig);
			\draw [negreg] (negsgtp) to (sgtp);
			\draw [negreg] (negglycmet) to (glycmet);
			\draw [negreg] (negras) to (ras);
			\draw [negreg] (negglyccat) to (glyccat);
			\draw [negreg] (negrho) to (rho);
			\end{pgfonlayer}
		\end{tikzpicture}
\end{document}
